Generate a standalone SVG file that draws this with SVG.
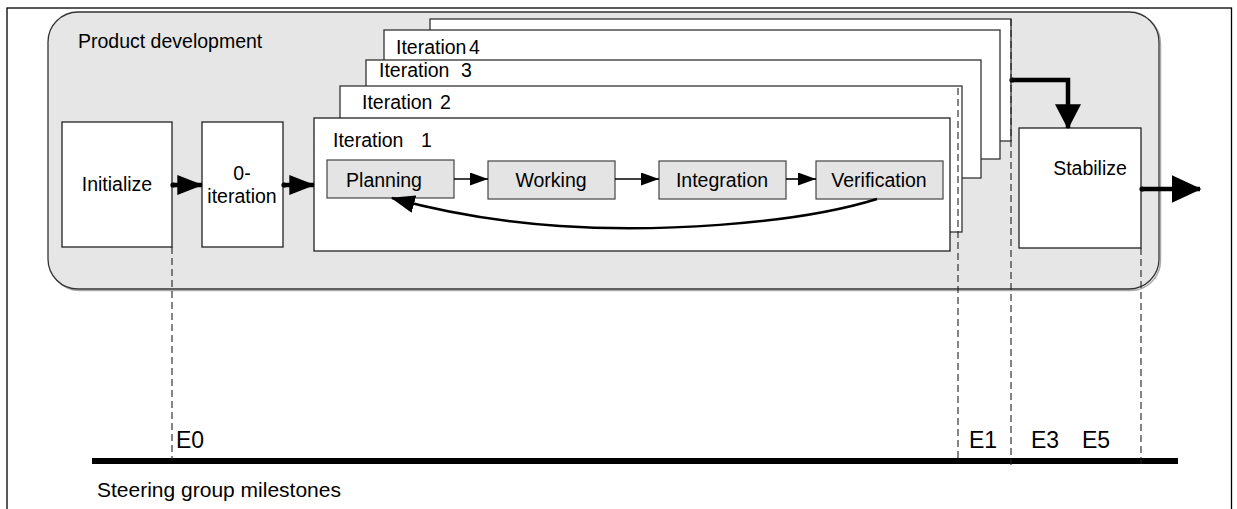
<svg xmlns="http://www.w3.org/2000/svg" width="1237" height="509" viewBox="0 0 1237 509">
  <style>
    text { font-family: "Liberation Sans", Arial, sans-serif; fill: #000; }
    .lbl { font-size: 19.5px; }
    .ms { font-size: 23px; }
    .frame { fill: #fff; stroke: #333; stroke-width: 1.3; }
    .box { fill: #fff; stroke: #222; stroke-width: 1.3; }
    .step { fill: #e4e4e4; stroke: #444; stroke-width: 1.2; }
    .dash { fill: none; stroke: #222; stroke-width: 1.1; stroke-dasharray: 7 4; }
    .thick { fill: none; stroke: #000; stroke-width: 4.5; }
    .thin { fill: none; stroke: #000; stroke-width: 1.6; }
  </style>
  <defs>
    <marker id="headBig" viewBox="0 0 10 10" refX="9.5" refY="5" markerUnits="userSpaceOnUse" markerWidth="30" markerHeight="28" orient="auto" preserveAspectRatio="none">
      <path d="M0,0 L10,5 L0,10 z" fill="#000"/>
    </marker>
    <marker id="headDown" viewBox="0 0 10 10" refX="9.5" refY="5" markerUnits="userSpaceOnUse" markerWidth="25" markerHeight="26" orient="auto" preserveAspectRatio="none">
      <path d="M0,0 L10,5 L0,10 z" fill="#000"/>
    </marker>
    <marker id="headMid" viewBox="0 0 10 10" refX="9.5" refY="5" markerUnits="userSpaceOnUse" markerWidth="26" markerHeight="20" orient="auto" preserveAspectRatio="none">
      <path d="M0,0 L10,5 L0,10 z" fill="#000"/>
    </marker>
    <marker id="headSmall" viewBox="0 0 10 10" refX="10" refY="5" markerUnits="userSpaceOnUse" markerWidth="18" markerHeight="13" orient="auto" preserveAspectRatio="none">
      <path d="M0,0 L10,5 L0,10 z" fill="#000"/>
    </marker>
    <marker id="headCurve" viewBox="0 0 10 10" refX="9.5" refY="5" markerUnits="userSpaceOnUse" markerWidth="24" markerHeight="18" orient="auto" preserveAspectRatio="none">
      <path d="M0,0 L10,5 L0,10 z" fill="#000"/>
    </marker>
  </defs>

  <!-- page frame -->
  <rect x="7" y="8" width="1224.5" height="520" fill="#fff" stroke="#000" stroke-width="1.3"/>

  <!-- product development container -->
  <g id="product-development">
    <rect x="49.5" y="13.5" width="1111" height="277" rx="30" ry="30" fill="none" stroke="#aaa" stroke-width="1.5"/>
    <rect x="48" y="12" width="1111" height="277" rx="30" ry="30" fill="#e6e6e6" stroke="#333" stroke-width="1.3"/>
    <text class="lbl" x="78" y="48">Product development</text>
  </g>

  <g id="initialize">
    <rect class="box" x="62" y="122" width="110" height="125"/>
    <text class="lbl" x="117" y="191" text-anchor="middle">Initialize</text>
  </g>

  <g id="iteration-0">
    <rect class="box" x="202" y="122" width="81" height="125"/>
    <text class="lbl" x="242" y="180" text-anchor="middle">0-</text>
    <text class="lbl" x="242" y="203" text-anchor="middle">iteration</text>
  </g>

  <!-- stacked iteration frames, back to front -->
  <g id="iteration-5">
    <rect class="frame" x="430" y="19" width="581" height="122"/>
  </g>
  <g id="iteration-4">
    <rect class="frame" x="384" y="30" width="616" height="129"/>
    <text class="lbl" x="396" y="54">Iteration<tspan x="469">4</tspan></text>
  </g>
  <g id="iteration-3">
    <rect class="frame" x="366" y="60" width="615" height="118"/>
    <text class="lbl" x="379" y="77">Iteration<tspan x="461">3</tspan></text>
  </g>
  <g id="iteration-2">
    <rect class="frame" x="340" y="86" width="622" height="146"/>
    <text class="lbl" x="362" y="109">Iteration<tspan x="440">2</tspan></text>
  </g>
  <g id="iteration-1">
    <rect class="box" x="314" y="118" width="636" height="133"/>
    <text class="lbl" x="333" y="147">Iteration<tspan x="421">1</tspan></text>
  </g>

  <g id="planning">
    <rect class="step" x="327" y="160" width="127" height="38"/>
    <text class="lbl" x="384" y="187" text-anchor="middle">Planning</text>
  </g>
  <g id="working">
    <rect class="step" x="488" y="161" width="127" height="38"/>
    <text class="lbl" x="551" y="187" text-anchor="middle">Working</text>
  </g>
  <g id="integration">
    <rect class="step" x="659" y="161" width="127" height="38"/>
    <text class="lbl" x="722" y="187" text-anchor="middle">Integration</text>
  </g>
  <g id="verification">
    <rect class="step" x="816" y="161" width="127" height="38"/>
    <text class="lbl" x="879" y="187" text-anchor="middle">Verification</text>
  </g>

  <g id="stabilize">
    <rect class="box" x="1019" y="128" width="122" height="120"/>
    <text class="lbl" x="1090" y="175" text-anchor="middle">Stabilize</text>
  </g>

  <!-- milestone axis -->
  <g id="milestones">
    <line x1="92" y1="461" x2="1178" y2="461" stroke="#000" stroke-width="6"/>
    <text class="ms" x="176" y="448">E0</text>
    <text class="ms" x="969" y="448">E1</text>
    <text class="ms" x="1031" y="448">E3</text>
    <text class="ms" x="1082" y="448">E5</text>
    <text style="font-size:21px" x="97" y="497">Steering group milestones</text>
  </g>

  <!-- connectors -->
  <g id="connectors">
    <circle cx="173" cy="185" r="2.6" fill="#000"/>
    <path class="thick" d="M173,185 H202" marker-end="url(#headMid)"/>
    <circle cx="284" cy="185" r="2.6" fill="#000"/>
    <path class="thick" d="M284,185 H314" marker-end="url(#headMid)"/>

    <path class="thin" d="M454,179 H488" marker-end="url(#headSmall)"/>
    <path class="thin" d="M615,179 H659" marker-end="url(#headSmall)"/>
    <path class="thin" d="M786,179 H816" marker-end="url(#headSmall)"/>

    <path fill="none" stroke="#000" stroke-width="2.5" d="M877,199 C790,226 650,232 560,226 C500,222 450,214 392,198" marker-end="url(#headCurve)"/>

    <circle cx="1012" cy="80" r="2.6" fill="#000"/>
    <path class="thick" d="M1012,80 H1068 V128" marker-end="url(#headDown)"/>

    <circle cx="1142" cy="189" r="2.6" fill="#000"/>
    <path class="thick" d="M1142,189 H1200" marker-end="url(#headBig)"/>

    <line class="dash" x1="172" y1="247" x2="172" y2="461"/>
    <line class="dash" x1="958" y1="88" x2="958" y2="458"/>
    <line class="dash" x1="1011" y1="19" x2="1011" y2="465"/>
    <line class="dash" x1="1141" y1="248" x2="1141" y2="465"/>
  </g>
</svg>
